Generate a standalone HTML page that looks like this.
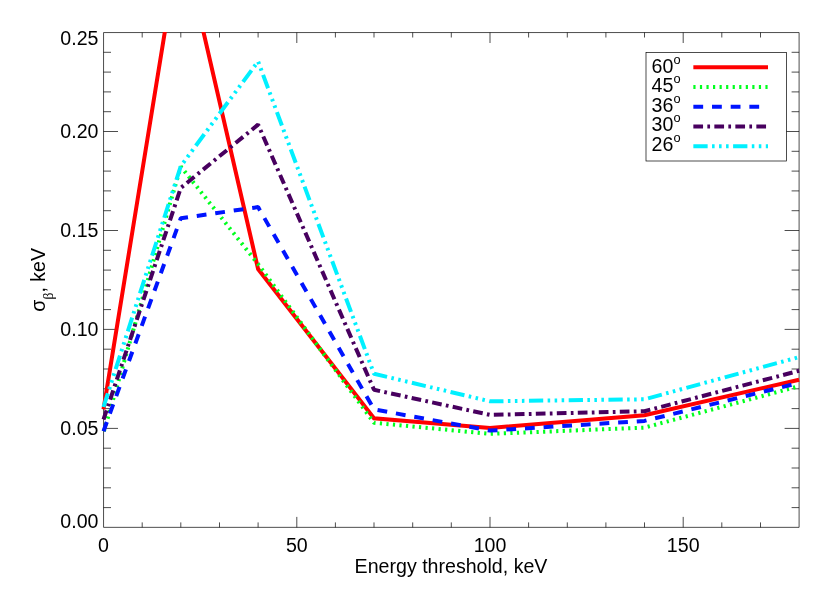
<!DOCTYPE html>
<html><head><meta charset="utf-8"><title>plot</title>
<style>html,body{margin:0;padding:0;background:#fff;}svg{display:block;will-change:transform;}text{font-family:"Liberation Sans",sans-serif;fill:#000;}</style>
</head><body>
<svg width="830" height="593" viewBox="0 0 830 593">
<rect x="0" y="0" width="830" height="593" fill="#ffffff"/>
<defs><clipPath id="c"><rect x="100.5" y="32.0" width="699.6" height="495.8"/></clipPath></defs>
<g fill="none" stroke="#000000" stroke-width="0.7">
<path d="M103.55 32.55H799.10V527.35H103.55ZM142.2 527.4v-5.0M142.2 32.5v5.0M180.8 527.4v-5.0M180.8 32.5v5.0M219.5 527.4v-5.0M219.5 32.5v5.0M258.1 527.4v-5.0M258.1 32.5v5.0M296.8 527.4v-10.5M296.8 32.5v10.5M335.4 527.4v-5.0M335.4 32.5v5.0M374.0 527.4v-5.0M374.0 32.5v5.0M412.7 527.4v-5.0M412.7 32.5v5.0M451.3 527.4v-5.0M451.3 32.5v5.0M490.0 527.4v-10.5M490.0 32.5v10.5M528.6 527.4v-5.0M528.6 32.5v5.0M567.3 527.4v-5.0M567.3 32.5v5.0M605.9 527.4v-5.0M605.9 32.5v5.0M644.5 527.4v-5.0M644.5 32.5v5.0M683.2 527.4v-10.5M683.2 32.5v10.5M721.8 527.4v-5.0M721.8 32.5v5.0M760.5 527.4v-5.0M760.5 32.5v5.0M103.5 507.6h7.5M799.1 507.6h-7.5M103.5 487.8h7.5M799.1 487.8h-7.5M103.5 468.0h7.5M799.1 468.0h-7.5M103.5 448.2h7.5M799.1 448.2h-7.5M103.5 428.4h14.5M799.1 428.4h-14.5M103.5 408.6h7.5M799.1 408.6h-7.5M103.5 388.8h7.5M799.1 388.8h-7.5M103.5 369.0h7.5M799.1 369.0h-7.5M103.5 349.2h7.5M799.1 349.2h-7.5M103.5 329.4h14.5M799.1 329.4h-14.5M103.5 309.6h7.5M799.1 309.6h-7.5M103.5 289.8h7.5M799.1 289.8h-7.5M103.5 270.1h7.5M799.1 270.1h-7.5M103.5 250.3h7.5M799.1 250.3h-7.5M103.5 230.5h14.5M799.1 230.5h-14.5M103.5 210.7h7.5M799.1 210.7h-7.5M103.5 190.9h7.5M799.1 190.9h-7.5M103.5 171.1h7.5M799.1 171.1h-7.5M103.5 151.3h7.5M799.1 151.3h-7.5M103.5 131.5h14.5M799.1 131.5h-14.5M103.5 111.7h7.5M799.1 111.7h-7.5M103.5 91.9h7.5M799.1 91.9h-7.5M103.5 72.1h7.5M799.1 72.1h-7.5M103.5 52.3h7.5M799.1 52.3h-7.5"/>
</g>
<g clip-path="url(#c)" fill="none" stroke-width="4" stroke-linejoin="miter" stroke-linecap="butt">
<polyline points="103.5,409.4 180.8,-66.4 258.1,269.1 374.0,418.3 490.0,428.0 644.5,415.3 799.1,379.7" stroke="#ff0000"/>
<polyline points="103.5,432.7 180.8,166.5 258.1,264.1 374.0,422.8 490.0,433.9 644.5,427.6 799.1,386.2" stroke="#00ff1e" stroke-dasharray="2.2 4.35" stroke-dashoffset="-1.5" stroke-linejoin="bevel"/>
<polyline points="103.5,431.2 180.8,218.2 258.1,207.1 374.0,409.4 490.0,430.6 644.5,420.9 799.1,382.9" stroke="#0014ff" stroke-dasharray="9.8 8.87" stroke-linejoin="bevel"/>
<polyline points="103.5,419.5 180.8,187.9 258.1,124.6 374.0,389.8 490.0,414.9 644.5,411.2 799.1,370.8" stroke="#48005f" stroke-dasharray="9.7 4.3 2.7 4.3" stroke-linejoin="bevel"/>
<polyline points="103.5,407.0 180.8,166.1 258.1,61.4 374.0,373.8 490.0,401.3 644.5,399.3 799.1,357.1" stroke="#00f0ff" stroke-dasharray="14.3 4.4 2.55 4.45 2.55 4.45 2.55 4.5" stroke-linejoin="bevel"/>
</g>
<g font-size="19.60">
<text x="103.5" y="552.3" text-anchor="middle">0</text>
<text x="296.8" y="552.3" text-anchor="middle">50</text>
<text x="490.0" y="552.3" text-anchor="middle">100</text>
<text x="683.2" y="552.3" text-anchor="middle">150</text>
<text x="98.5" y="527.6" text-anchor="end">0.00</text>
<text x="98.5" y="435.2" text-anchor="end">0.05</text>
<text x="98.5" y="336.3" text-anchor="end">0.10</text>
<text x="98.5" y="237.3" text-anchor="end">0.15</text>
<text x="98.5" y="138.4" text-anchor="end">0.20</text>
<text x="98.5" y="44.7" text-anchor="end">0.25</text>
<text x="451.0" y="573.3" text-anchor="middle">Energy threshold, keV</text>
<text transform="translate(45.4 279.8) rotate(-90)" text-anchor="middle">&#963;<tspan font-family="Liberation Serif,serif" font-size="13.7" dy="7.8">&#946;</tspan><tspan dy="-7.8">, keV</tspan></text>
</g>
<rect x="646.0" y="52.5" width="140.5" height="108.5" fill="#fff" stroke="#000000" stroke-width="0.7"/>
<g font-size="19.60">
<text x="651.6" y="72.9">60<tspan font-size="12.8" dy="-9.2">o</tspan></text>
<line x1="693.35" y1="67.2" x2="768.0" y2="67.2" stroke="#ff0000" stroke-width="4"/>
<text x="651.6" y="92.4">45<tspan font-size="12.8" dy="-9.2">o</tspan></text>
<line x1="693.35" y1="87.0" x2="768.0" y2="87.0" stroke="#00ff1e" stroke-width="4" stroke-dasharray="2.2 4.35"/>
<text x="651.6" y="111.9">36<tspan font-size="12.8" dy="-9.2">o</tspan></text>
<line x1="693.35" y1="106.8" x2="768.0" y2="106.8" stroke="#0014ff" stroke-width="4" stroke-dasharray="9.8 8.87"/>
<text x="651.6" y="131.4">30<tspan font-size="12.8" dy="-9.2">o</tspan></text>
<line x1="693.35" y1="126.5" x2="768.0" y2="126.5" stroke="#48005f" stroke-width="4" stroke-dasharray="9.7 4.3 2.7 4.3"/>
<text x="651.6" y="150.9">26<tspan font-size="12.8" dy="-9.2">o</tspan></text>
<line x1="693.35" y1="146.2" x2="768.0" y2="146.2" stroke="#00f0ff" stroke-width="4" stroke-dasharray="14.3 4.4 2.55 4.45 2.55 4.45 2.55 4.5"/>
</g>
</svg></body></html>
